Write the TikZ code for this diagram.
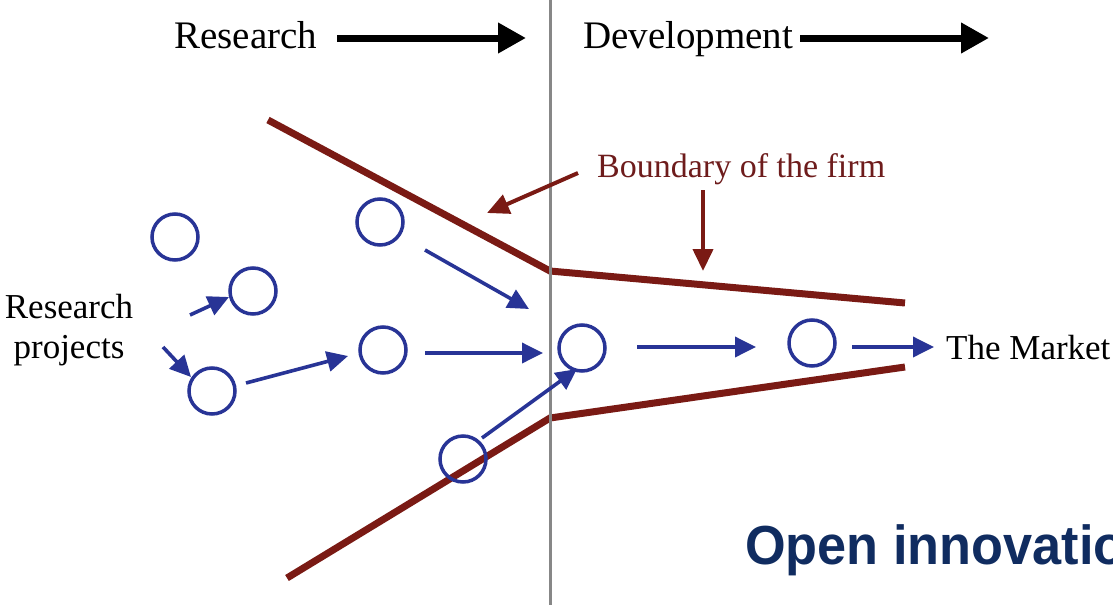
\documentclass[tikz,border=0pt]{standalone}
\usepackage{fontspec}
\setmainfont{Liberation Serif}
\newfontfamily\headsans[FakeStretch=0.95]{Liberation Sans}
\usetikzlibrary{arrows.meta}
\definecolor{firmbrown}{RGB}{122,26,20}
\definecolor{labelbrown}{RGB}{110,28,28}
\definecolor{projblue}{RGB}{40,52,150}
\definecolor{navy}{RGB}{16,44,96}
\definecolor{divgray}{RGB}{135,135,135}
\begin{document}
\begin{tikzpicture}[x=1pt,y=-1pt,
  proj/.style={circle, draw=projblue, line width=3.5pt, minimum size=46pt, inner sep=0pt},
  flow/.style={draw=projblue, line width=3.6pt, -{Triangle[length=21pt,width=20pt]}},
  phase/.style={draw=black, line width=7pt, -{Triangle[length=28pt,width=29pt]}},
  firm/.style={draw=firmbrown, line width=7pt, line join=miter},
  pointer/.style={draw=firmbrown, line width=4pt, -{Triangle[length=22pt,width=20pt]}},
  serifbig/.style={font=\fontsize{39}{46}\selectfont, inner sep=0pt},
  serifmid/.style={font=\fontsize{35}{40}\selectfont, inner sep=0pt},
]
\useasboundingbox (0,0) rectangle (1113,605);
\clip (0,0) rectangle (1113,605);
\fill[white] (0,0) rectangle (1113,605);

% boundary of the firm
\coordinate (ut) at (268,120);
\coordinate (uj) at (550,271);
\coordinate (ue) at (905,303);
\coordinate (lt) at (287,578);
\coordinate (lj) at (550,418);
\coordinate (le) at (905,367);
\draw[firm] (ut) -- (uj) -- (ue);
\draw[firm] (lt) -- (lj) -- (le);

% research / development divider
\coordinate (dtop) at (550,0);
\coordinate (dbot) at (550,605);
\draw[divgray, line width=3pt] (dtop) -- (dbot);

% phase headings
\node[serifbig, anchor=base west] (res) at (174,48) {Research};
\node[serifbig, anchor=base west] (dev) at (583,48) {Development};
\coordinate (resA) at (337,38);
\coordinate (resB) at (526,38);
\coordinate (devA) at (800,38);
\coordinate (devB) at (989,38);
\draw[phase] (resA) -- (resB);
\draw[phase] (devA) -- (devB);

% labels
\node[serifmid, align=center] (rp) at (69,330) {Research\\projects};
\node[serifmid, anchor=base west] (mkt) at (946,359) {The Market};
\node[font=\fontsize{34}{40}\selectfont, inner sep=0pt, text=labelbrown, anchor=base west] (bnd) at (597,177) {Boundary of the firm};
\node[font=\headsans\bfseries\fontsize{55}{60}\selectfont, inner sep=0pt, text=navy, anchor=base west] (oi) at (745,564) {Open innovation};

% pointers to the boundary
\coordinate (p1a) at (578,173);
\coordinate (p1b) at (487,213);
\coordinate (p2a) at (703,190);
\coordinate (p2b) at (703,271);
\draw[pointer] (p1a) -- (p1b);
\draw[pointer] (p2a) -- (p2b);

% research projects
\node[proj] (c1) at (175,237) {};
\node[proj] (c2) at (253,291) {};
\node[proj] (c3) at (380,222) {};
\node[proj] (c4) at (383,350) {};
\node[proj] (c5) at (212,391) {};
\node[proj] (c6) at (463,459) {};
\node[proj] (c7) at (582,348) {};
\node[proj] (c8) at (812,343) {};

% flows
\coordinate (f1a) at (190,315);
\coordinate (f1b) at (229,297);
\coordinate (f2a) at (163,347);
\coordinate (f2b) at (191,377);
\coordinate (f3a) at (246,383);
\coordinate (f3b) at (348,356);
\coordinate (f4a) at (425,250);
\coordinate (f4b) at (529,309);
\coordinate (f5a) at (425,353);
\coordinate (f5b) at (543,353);
\coordinate (f6a) at (482,438);
\coordinate (f6b) at (577,369);
\coordinate (f7a) at (637,347);
\coordinate (f7b) at (756,347);
\coordinate (f8a) at (852,347);
\coordinate (f8b) at (934,347);
\draw[flow] (f1a) -- (f1b);
\draw[flow] (f2a) -- (f2b);
\draw[flow] (f3a) -- (f3b);
\draw[flow] (f4a) -- (f4b);
\draw[flow] (f5a) -- (f5b);
\draw[flow] (f6a) -- (f6b);
\draw[flow] (f7a) -- (f7b);
\draw[flow] (f8a) -- (f8b);
\end{tikzpicture}
\end{document}
